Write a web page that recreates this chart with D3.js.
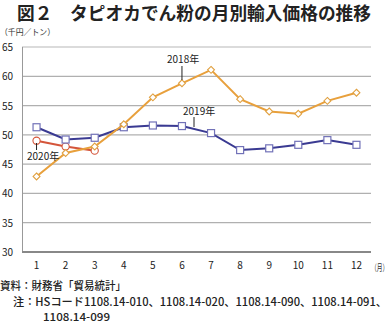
<!DOCTYPE html>
<html><head><meta charset="utf-8">
<script src="https://cdn.jsdelivr.net/npm/d3@7"></script>
<style>
html,body{margin:0;padding:0;background:#fff;}
svg{display:block;}
text{font-family:"Noto Sans CJK JP","Noto Sans",sans-serif;}
</style></head>
<body>
<svg id="c" width="390" height="328"></svg>
<script>
const months = ["1","2","3","4","5","6","7","8","9","10","11","12"];
const yTicks = [30,35,40,45,50,55,60,65];
const s2018 = [42.9,46.9,48.0,51.8,56.4,58.8,61.1,56.1,54.0,53.6,55.8,57.2];
const s2019 = [51.3,49.2,49.5,51.3,51.6,51.5,50.3,47.4,47.7,48.3,49.1,48.3];
const s2020 = [49.0,48.0,47.3];
const seriesNames = ["2018年","2019年","2020年"];
const title = "図２　タピオカでん粉の月別輸入価格の推移";
const unitLabel = "（千円／トン）";
const xUnit = "（月）";
const notes = ["資料：財務省「貿易統計」","注：HSコード1108.14-010、1108.14-020、1108.14-090、1108.14-091、","1108.14-099"];

const svg = d3.select("#c");
const x = d3.scaleBand().domain(months).range([22,371]);
const cx = m => x(m) + x.bandwidth()/2;
const y = d3.scaleLinear().domain([30,65]).range([252,47]);

// title
svg.append("text").attr("x",17).attr("y",20).attr("font-size",17.8).attr("font-weight","bold")
  .attr("fill","#222").attr("textLength",354).attr("lengthAdjust","spacingAndGlyphs").text(title);
svg.append("text").attr("x",0).attr("y",35).attr("font-size",8.5).attr("fill","#333")
  .attr("textLength",55).attr("lengthAdjust","spacingAndGlyphs").text(unitLabel);

// grid
svg.append("g").selectAll("line").data(yTicks.filter(d=>d>30)).join("line")
  .attr("x1",22).attr("x2",371).attr("y1",d=>y(d)).attr("y2",d=>y(d))
  .attr("stroke",d=>d===65?"#cfcfcf":"#b0b0b0").attr("stroke-width",1.3);
// left axis
svg.append("line").attr("x1",22.5).attr("x2",22.5).attr("y1",y(65)).attr("y2",y(30)).attr("stroke","#999").attr("stroke-width",1);
// bottom axis
svg.append("line").attr("x1",22).attr("x2",371).attr("y1",y(30)).attr("y2",y(30)).attr("stroke","#888").attr("stroke-width",2);

// y labels
const yAxis = d3.axisLeft(y).tickValues(yTicks).tickSize(0).tickPadding(0);
const ga = svg.append("g").attr("transform","translate(13,0)").call(yAxis);
ga.select(".domain").remove();
ga.selectAll("text").attr("font-size",10).attr("fill","#222").attr("font-family","'Noto Sans','DejaVu Sans',sans-serif").attr("dy","0.35em");

// x labels
const xAxis = d3.axisBottom(x).tickSize(0).tickPadding(0);
const gx = svg.append("g").attr("transform","translate(0,262)").call(xAxis);
gx.select(".domain").remove();
gx.selectAll("text").attr("font-size",10).attr("fill","#222").attr("font-family","'Noto Sans','DejaVu Sans',sans-serif").attr("dy","0.71em");
svg.append("text").attr("transform","translate(371,271) scale(0.64,1)").attr("font-size",9).attr("fill","#333").text(xUnit);

const line = d3.line().x((d,i)=>cx(months[i])).y(d=>y(d));

function drawSeries(data,color,markerColor,shape){
  svg.append("path").datum(data).attr("d",line).attr("fill","none").attr("stroke",color).attr("stroke-width",2);
  const g = svg.append("g");
  data.forEach((v,i)=>{
    const px=cx(months[i]), py=y(v);
    if(shape==="square"){
      g.append("rect").attr("x",px-3.5).attr("y",py-3.5).attr("width",7).attr("height",7)
        .attr("fill","#fff").attr("stroke",markerColor).attr("stroke-width",1.2);
    } else if(shape==="diamond"){
      g.append("path").attr("d",d3.symbol(d3.symbolDiamond2,30)()).attr("transform",`translate(${px},${py})`)
        .attr("fill","#fff").attr("stroke",markerColor).attr("stroke-width",1.1);
    } else {
      g.append("circle").attr("cx",px).attr("cy",py).attr("r",3.6)
        .attr("fill","#fff").attr("stroke",markerColor).attr("stroke-width",1.1);
    }
  });
}
drawSeries(s2020,"#d4553a","#d4553a","circle");
drawSeries(s2019,"#3a3a92","#7272b8","square");
drawSeries(s2018,"#e8a03c","#e0a040","diamond");

// annotations
function annot(txt,tx,ty,lx,ly1,ly2){
  svg.append("line").attr("x1",lx).attr("x2",lx).attr("y1",ly1).attr("y2",ly2).attr("stroke","#222").attr("stroke-width",1);
  svg.append("text").attr("x",tx).attr("y",ty).attr("font-size",10).attr("fill","#222").text(txt);
}
annot(seriesNames[0],167,63,cx("6"),66,80);
annot(seriesNames[1],183,115,194,117,127);
annot(seriesNames[2],27,160,cx("1"),143,150);

// notes
svg.append("text").attr("x",0).attr("y",290).attr("font-size",11).attr("font-weight","500").attr("fill","#222")
  .attr("textLength",126).attr("lengthAdjust","spacingAndGlyphs").text(notes[0]);
svg.append("text").attr("x",13).attr("y",306).attr("font-size",11).attr("font-weight","500").attr("fill","#222")
  .attr("textLength",374).attr("lengthAdjust","spacingAndGlyphs").text(notes[1]);
svg.append("text").attr("x",43).attr("y",321).attr("font-size",11).attr("font-weight","500").attr("fill","#222")
  .attr("textLength",67).attr("lengthAdjust","spacingAndGlyphs").text(notes[2]);
</script>
</body></html>
